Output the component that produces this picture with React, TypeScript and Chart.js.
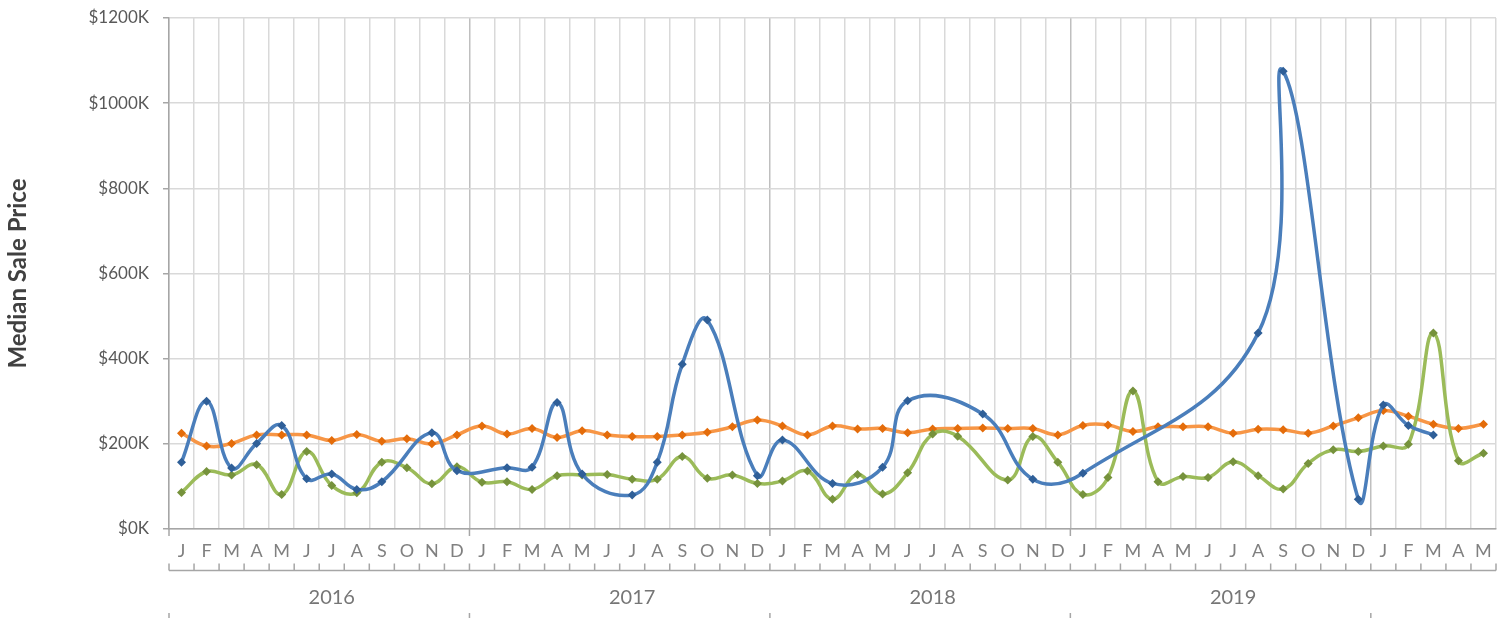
import React, { useEffect, useRef } from "react";
import { Chart, registerables } from "chart.js";

Chart.register(...registerables);

const monthLetters = ["J", "F", "M", "A", "M", "J", "J", "A", "S", "O", "N", "D"];
const categories: string[] = [
  ...monthLetters, ...monthLetters, ...monthLetters, ...monthLetters,
  "J", "F", "M", "A", "M",
];
const yearLabels = ["2016", "2017", "2018", "2019"];
const yTicks = [0, 200, 400, 600, 800, 1000, 1200];

// values in $K, null = no data point for that month
const blueSeries: (number | null)[] = [
  157, 300, 143, 201, 243, 118, 129, 93, 111, null, 226, 137,
  null, 144, 145, 297, 129, null, 80, 157, 387, 491, null, 125,
  209, null, 107, null, 145, 301, null, null, 270, null, 117, null,
  131, null, null, null, null, null, null, 460, 1075, null, null, 70,
  291, 243, 221, null, null,
];
const orangeSeries: (number | null)[] = [
  225, 195, 201, 221, 221, 221, 208, 222, 206, 212, 200, 221,
  242, 223, 236, 215, 231, 221, 217, 217, 221, 227, 240, 256,
  242, 221, 242, 235, 236, 226, 235, 236, 237, 236, 236, 221,
  243, 244, 229, 240, 240, 240, 225, 234, 233, 225, 242, 261,
  278, 265, 246, 236, 246,
];
const greenSeries: (number | null)[] = [
  86, 135, 127, 151, 81, 182, 102, 85, 157, 144, 106, 146,
  110, 111, 93, 125, 127, 128, 117, 117, 170, 119, 127, 107,
  113, 136, 70, 128, 82, 132, 223, 218, null, 115, 217, 157,
  81, 121, 324, 111, 123, 121, 158, 125, 94, 154, 186, 182,
  195, 199, 460, 160, 178,
];

const FONT = "Lato, 'Open Sans', sans-serif";
const AXIS_GRAY = "#a6a6a6";

const multiLevelAxis = {
  id: "multiLevelAxis",
  afterDraw(chart: any) {
    const { ctx, chartArea } = chart;
    const x = chart.scales.x;
    const n = categories.length;
    const half = (x.getPixelForValue(1) - x.getPixelForValue(0)) / 2;
    const boundary = (i: number) => x.getPixelForValue(i) - half;
    const y0 = chartArea.bottom;
    const rowLine = y0 + 41.5;
    const yearTickTop = y0 + 84;

    ctx.save();
    ctx.strokeStyle = AXIS_GRAY;
    ctx.lineWidth = 1.5;
    for (let i = 0; i < n; i += 12) {
      const bx = boundary(i);
      ctx.beginPath();
      ctx.moveTo(bx, y0);
      ctx.lineTo(bx, y0 + 7);
      ctx.stroke();
    }
    ctx.beginPath();
    ctx.moveTo(boundary(0), rowLine);
    ctx.lineTo(boundary(n), rowLine);
    ctx.stroke();
    for (let i = 0; i <= n; i++) {
      const bx = boundary(i);
      ctx.beginPath();
      ctx.moveTo(bx, rowLine);
      ctx.lineTo(bx, rowLine - 7);
      ctx.stroke();
    }
    for (let i = 0; i < n; i += 12) {
      const bx = boundary(i);
      ctx.beginPath();
      ctx.moveTo(bx, yearTickTop);
      ctx.lineTo(bx, yearTickTop + 10);
      ctx.stroke();
    }
    ctx.fillStyle = "#808080";
    ctx.font = `18px ${FONT}`;
    ctx.textAlign = "center";
    ctx.textBaseline = "middle";
    categories.forEach((m, i) => {
      ctx.fillText(m, x.getPixelForValue(i), y0 + 22);
    });
    ctx.fillStyle = "#767676";
    ctx.font = `20px ${FONT}`;
    yearLabels.forEach((yl, k) => {
      ctx.fillText(yl, x.getPixelForValue(k * 12 + 6), y0 + 69);
    });
    ctx.restore();
  },
};

export default function App() {
  const canvasRef = useRef<HTMLCanvasElement | null>(null);

  useEffect(() => {
    if (!canvasRef.current) return;
    const common = {
      borderWidth: 3.5,
      pointStyle: "rectRot",
      pointRadius: 4.5,
      pointBorderWidth: 0,
      tension: 0.42,
      spanGaps: true,
      fill: false,
    };
    const chart = new Chart(canvasRef.current, {
      type: "line",
      data: {
        labels: categories,
        datasets: [
          {
            ...common,
            label: "Blue",
            data: blueSeries,
            borderColor: "#4a7ebb",
            pointBackgroundColor: "#2f5f98",
            order: 0,
          },
          {
            ...common,
            label: "Green",
            data: greenSeries,
            borderColor: "#9bbb59",
            pointBackgroundColor: "#76923c",
            order: 1,
          },
          {
            ...common,
            label: "Orange",
            data: orangeSeries,
            borderColor: "#f79646",
            pointBackgroundColor: "#e46c0a",
            order: 2,
          },
        ] as any,
      },
      options: {
        animation: false,
        responsive: true,
        maintainAspectRatio: false,
        layout: { padding: { top: 18, right: 16, left: 0, bottom: 0 } },
        plugins: {
          legend: { display: false },
          tooltip: { enabled: false },
        },
        scales: {
          x: {
            type: "category",
            offset: true,
            ticks: { display: false },
            grid: {
              offset: true,
              drawTicks: false,
              lineWidth: 1.5,
              color: (c: any) =>
                c.index !== undefined && c.index % 12 === 0 && c.index > 0
                  ? "#bfbfbf"
                  : "#d9d9d9",
            },
            border: { color: AXIS_GRAY, width: 1.5 },
            afterFit: (s: any) => {
              s.height = 89;
              s.paddingLeft = 0;
              s.paddingRight = 0;
            },
          },
          y: {
            min: 0,
            max: 1200,
            afterBuildTicks: (s: any) => {
              s.ticks = yTicks.map((v) => ({ value: v }));
            },
            ticks: {
              padding: 14,
              color: "#595959",
              font: { family: FONT, size: 17 },
              callback: (v: any) => "$" + v + "K",
            },
            grid: {
              lineWidth: 1.5,
              color: "#d9d9d9",
              tickColor: AXIS_GRAY,
              tickLength: 6,
            },
            border: { color: AXIS_GRAY, width: 1.5 },
            title: {
              display: true,
              text: "Median Sale Price",
              color: "#404040",
              font: { family: FONT, size: 24, weight: "bold" },
              padding: { top: 4, bottom: 0 },
            },
            afterFit: (s: any) => {
              s.width = 169;
              s.paddingTop = 0;
              s.paddingBottom = 0;
            },
          },
        },
      },
      plugins: [multiLevelAxis],
    } as any);
    return () => chart.destroy();
  }, []);

  return (
    <div style={{ position: "absolute", left: 0, top: 0, width: 1512, height: 618, background: "#fff" }}>
      <canvas ref={canvasRef} />
    </div>
  );
}
